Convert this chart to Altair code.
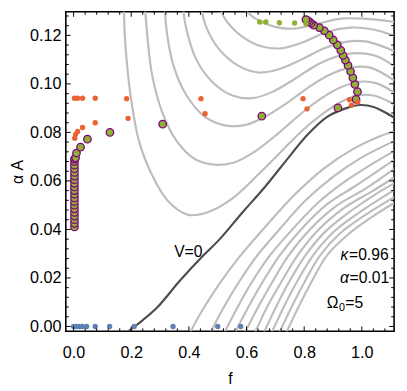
import altair as alt
import pandas as pd

# ---------------- data ----------------
# gray contour lines above V=0 (f, alpha*A)
upper_f = [
    [0.174, 0.178, 0.187, 0.201, 0.227, 0.273, 0.329, 0.398, 0.472, 0.551, 0.631, 0.711, 0.790, 0.858, 0.927, 0.983, 1.040, 1.097, 1.114],
    [0.247, 0.256, 0.273, 0.307, 0.358, 0.421, 0.489, 0.557, 0.631, 0.711, 0.790, 0.858, 0.927, 0.995, 1.052, 1.114],
    [0.316, 0.324, 0.347, 0.392, 0.455, 0.529, 0.597, 0.665, 0.745, 0.824, 0.892, 0.961, 1.029, 1.114],
    [0.378, 0.392, 0.426, 0.483, 0.551, 0.620, 0.688, 0.767, 0.847, 0.915, 0.983, 1.052, 1.114],
    [0.440, 0.460, 0.506, 0.574, 0.642, 0.711, 0.790, 0.870, 0.949, 1.018, 1.114],
    [0.500, 0.529, 0.585, 0.654, 0.722, 0.801, 0.881, 0.961, 1.040, 1.114],
    [0.585, 0.631, 0.699, 0.767, 0.847, 0.927, 1.006, 1.114],
]
upper_A = [
    [0.1329, 0.1195, 0.1060, 0.0925, 0.0764, 0.0622, 0.0515, 0.0460, 0.0474, 0.0528, 0.0615, 0.0710, 0.0804, 0.0871, 0.0925, 0.0952, 0.0952, 0.0925, 0.0912],
    [0.1329, 0.1195, 0.1033, 0.0885, 0.0764, 0.0690, 0.0667, 0.0676, 0.0723, 0.0797, 0.0878, 0.0939, 0.0986, 0.1009, 0.1002, 0.0963],
    [0.1329, 0.1208, 0.1073, 0.0952, 0.0865, 0.0828, 0.0831, 0.0865, 0.0925, 0.0993, 0.1040, 0.1067, 0.1067, 0.1013],
    [0.1329, 0.1222, 0.1100, 0.1006, 0.0952, 0.0941, 0.0966, 0.1020, 0.1080, 0.1114, 0.1127, 0.1114, 0.1071],
    [0.1329, 0.1235, 0.1141, 0.1073, 0.1047, 0.1060, 0.1100, 0.1147, 0.1174, 0.1174, 0.1134],
    [0.1329, 0.1262, 0.1195, 0.1154, 0.1147, 0.1174, 0.1215, 0.1232, 0.1224, 0.1197],
    [0.1316, 0.1269, 0.1235, 0.1228, 0.1248, 0.1269, 0.1269, 0.1255],
]
# gray contour lines below V=0
lower_f = [
    [0.405, 0.415, 0.452, 0.507, 0.578, 0.663, 0.765, 0.867, 0.969, 1.054, 1.112],
    [0.476, 0.486, 0.520, 0.571, 0.636, 0.714, 0.806, 0.901, 0.997, 1.112],
    [0.524, 0.534, 0.568, 0.616, 0.680, 0.759, 0.847, 0.942, 1.037, 1.112],
    [0.561, 0.571, 0.605, 0.653, 0.714, 0.789, 0.881, 0.976, 1.112],
    [0.595, 0.605, 0.639, 0.687, 0.745, 0.820, 0.912, 1.010, 1.112],
    [0.629, 0.639, 0.670, 0.718, 0.776, 0.847, 0.939, 1.037, 1.112],
    [0.660, 0.670, 0.701, 0.745, 0.803, 0.874, 0.963, 1.054, 1.112],
    [0.687, 0.697, 0.728, 0.772, 0.830, 0.901, 0.990, 1.112],
    [0.714, 0.724, 0.755, 0.799, 0.854, 0.925, 1.014, 1.112],
    [0.738, 0.748, 0.779, 0.823, 0.878, 0.949, 1.037, 1.112],
]
lower_A = [
    [-0.0024, 0.0, 0.0077, 0.0178, 0.0291, 0.0408, 0.0541, 0.0650, 0.0731, 0.0780, 0.0804],
    [-0.0024, 0.0, 0.0077, 0.0178, 0.0291, 0.0400, 0.0521, 0.0618, 0.0695, 0.0764],
    [-0.0024, 0.0, 0.0077, 0.0178, 0.0291, 0.0400, 0.0509, 0.0598, 0.0671, 0.0723],
    [-0.0024, 0.0, 0.0077, 0.0178, 0.0291, 0.0400, 0.0505, 0.0578, 0.0687],
    [-0.0024, 0.0, 0.0077, 0.0178, 0.0291, 0.0400, 0.0497, 0.0566, 0.0650],
    [-0.0024, 0.0, 0.0077, 0.0178, 0.0291, 0.0396, 0.0489, 0.0558, 0.0614],
    [-0.0024, 0.0, 0.0077, 0.0178, 0.0291, 0.0392, 0.0477, 0.0550, 0.0590],
    [-0.0024, 0.0, 0.0077, 0.0178, 0.0291, 0.0388, 0.0469, 0.0562],
    [-0.0024, 0.0, 0.0077, 0.0178, 0.0291, 0.0384, 0.0461, 0.0533],
    [-0.0024, 0.0, 0.0077, 0.0178, 0.0291, 0.0376, 0.0453, 0.0509],
]
# V = 0 curve
v0_f = [0.190, 0.221, 0.289, 0.367, 0.449, 0.507, 0.585, 0.663, 0.745, 0.813, 0.881, 0.949, 0.993, 1.041, 1.095, 1.112]
v0_A = [-0.0020, 0.0008, 0.0077, 0.0186, 0.0291, 0.0360, 0.0469, 0.0574, 0.0695, 0.0792, 0.0865, 0.0901, 0.0913, 0.0905, 0.0873, 0.0861]

# blue points (on A = 0)
blue_f = [0.0, 0.01, 0.02, 0.03, 0.045, 0.075, 0.125, 0.21, 0.345, 0.5, 0.58]
blue_A = [0.0] * len(blue_f)

# orange points
orange_f = [0.003, 0.014, 0.031, 0.075, 0.184, 0.189, 0.075, 0.031, 0.014, 0.007, 0.004,
            0.442, 0.456, 0.796, 0.81, 0.957, 0.964, 0.986]
orange_A = [0.0941, 0.0941, 0.0941, 0.0941, 0.0939, 0.0858, 0.084, 0.082, 0.0804, 0.0792, 0.0776,
            0.0939, 0.0877, 0.0939, 0.0897, 0.0935, 0.0912, 0.0925]

# green points with purple rim
ring_f = [0.003, 0.003, 0.003, 0.003, 0.003, 0.003, 0.003, 0.003, 0.003, 0.003,
          0.003, 0.003, 0.003, 0.003, 0.003, 0.003, 0.003, 0.003, 0.003, 0.003,
          0.007, 0.010, 0.024, 0.048, 0.126, 0.309, 0.653, 0.917, 0.980, 0.985,
          0.976, 0.969, 0.961, 0.952, 0.943, 0.935, 0.927, 0.915, 0.901, 0.887,
          0.870, 0.853, 0.833, 0.824, 0.818, 0.812, 0.806]
ring_A = [0.0410, 0.0425, 0.0440, 0.0455, 0.0470, 0.0485, 0.0500, 0.0515, 0.0530, 0.0545,
          0.0560, 0.0575, 0.0590, 0.0605, 0.0620, 0.0635, 0.0650, 0.0665, 0.0680, 0.0690,
          0.0695, 0.0715, 0.0739, 0.0772, 0.0800, 0.0834, 0.0867, 0.0901, 0.0936, 0.0968,
          0.0998, 0.1025, 0.1051, 0.1076, 0.1098, 0.1117, 0.1138, 0.1161, 0.1181, 0.1201,
          0.1219, 0.1232, 0.1242, 0.1250, 0.1256, 0.1261, 0.1265]

# small green points
green_f = [0.646, 0.667, 0.714, 0.767, 0.806]
green_A = [0.1255, 0.1255, 0.1252, 0.1251, 0.1248]

# ticks
x_major = [0.0, 0.2, 0.4, 0.6, 0.8, 1.0]
x_minor = [0.04, 0.08, 0.12, 0.16, 0.24, 0.28, 0.32, 0.36, 0.44, 0.48, 0.52, 0.56,
           0.64, 0.68, 0.72, 0.76, 0.84, 0.88, 0.92, 0.96, 1.04, 1.08]
y_major = [0.0, 0.02, 0.04, 0.06, 0.08, 0.10, 0.12]
y_minor = [0.004, 0.008, 0.012, 0.016, 0.024, 0.028, 0.032, 0.036, 0.044, 0.048, 0.052, 0.056,
           0.064, 0.068, 0.072, 0.076, 0.084, 0.088, 0.092, 0.096, 0.104, 0.108, 0.112, 0.116,
           0.124, 0.128]

# annotations: (f, A, text)
v_label = {"f": 0.398, "A": 0.0307, "t": "V=0"}
kappa_label = {"f": 1.093, "A": 0.0295, "sym": "κ", "rest": "=0.96"}
alpha_label = {"f": 1.095, "A": 0.0198, "sym": "α", "rest": "=0.01"}
omega_label = {"f": 0.878, "A": 0.0097, "sym": "Ω", "sub": "0", "rest": "=5"}

# ---------------- tables ----------------
rows = []
cid = 0
for fs, As in list(zip(upper_f, upper_A)) + list(zip(lower_f, lower_A)):
    for j, (a, b) in enumerate(zip(fs, As)):
        rows.append({"f": a, "A": b, "id": cid, "o": j})
    cid += 1
contours = pd.DataFrame(rows)
v0 = pd.DataFrame({"f": v0_f, "A": v0_A, "o": list(range(len(v0_f)))})
blue = pd.DataFrame({"f": blue_f, "A": blue_A})
orange = pd.DataFrame({"f": orange_f, "A": orange_A})
rings = pd.DataFrame({"f": ring_f, "A": ring_A})
green = pd.DataFrame({"f": green_f, "A": green_A})

W, H = 335, 326
FONT = "Liberation Sans"
FS = 16
xs = alt.Scale(domain=[-0.027, 1.112], nice=False, zero=False)
ys = alt.Scale(domain=[-0.002, 0.1297], nice=False, zero=False)
x_axis = alt.Axis(values=x_major, format=".1f", tickSize=0, domain=False, grid=False,
                  labelFontSize=16.5, labelFont=FONT, labelColor="black", labelPadding=14,
                  titleFontSize=16, titleFont=FONT, titleFontWeight="normal", titleColor="black",
                  titlePadding=10)
y_axis = alt.Axis(values=y_major, format=".2f", tickSize=0, domain=False, grid=False,
                  labelFontSize=16.5, labelFont=FONT, labelColor="black", labelPadding=5,
                  titleFontSize=16, titleFont=FONT, titleFontWeight="normal", titleColor="black",
                  titlePadding=4)


def X(fld):
    return alt.X(fld, type="quantitative", scale=xs, axis=x_axis, title="f")


def Y(fld):
    return alt.Y(fld, type="quantitative", scale=ys, axis=y_axis, title="α A")


lines = alt.Chart(contours).mark_line(clip=True, color="#bdbdbd", strokeWidth=2.2,
                                      interpolate="catmull-rom").encode(
    x=X("f"), y=Y("A"), detail="id:N", order="o:Q")
dark = alt.Chart(v0).mark_line(clip=True, color="#4d4d4d", strokeWidth=2.2,
                               interpolate="catmull-rom").encode(x=X("f"), y=Y("A"), order="o:Q")
pb = alt.Chart(blue).mark_circle(size=30, opacity=1, color="#5E81B5").encode(x=X("f"), y=Y("A"))
pr = alt.Chart(rings).mark_point(shape="circle", filled=True, size=58, opacity=1,
                                 fill="#8FB032", stroke="#800080", strokeWidth=1.3).encode(x=X("f"), y=Y("A"))
po = alt.Chart(orange).mark_circle(size=30, opacity=1, color="#EB6235").encode(x=X("f"), y=Y("A"))
pg = alt.Chart(green).mark_circle(size=30, opacity=1, color="#8FB032").encode(x=X("f"), y=Y("A"))


def xt(vals, L, top):
    d = pd.DataFrame({"t": vals})
    if top:
        return alt.Chart(d).mark_rule(color="black", strokeWidth=1).encode(
            x=X("t"), y=alt.value(0), y2=alt.value(L))
    return alt.Chart(d).mark_rule(color="black", strokeWidth=1).encode(
        x=X("t"), y=alt.value(H), y2=alt.value(H - L))


def yt(vals, L, right):
    d = pd.DataFrame({"t": vals})
    if right:
        return alt.Chart(d).mark_rule(color="black", strokeWidth=1).encode(
            y=Y("t"), x=alt.value(W), x2=alt.value(W - L))
    return alt.Chart(d).mark_rule(color="black", strokeWidth=1).encode(
        y=Y("t"), x=alt.value(0), x2=alt.value(L))


ticks = [xt(x_major, 5, False), xt(x_major, 5, True), xt(x_minor, 3, False), xt(x_minor, 3, True),
         yt(y_major, 5, False), yt(y_major, 5, True), yt(y_minor, 3, False), yt(y_minor, 3, True)]


def label(rec, field, align, dx=0, dy=0, size=FS, style="normal"):
    return alt.Chart(pd.DataFrame([rec])).mark_text(
        fontSize=size, font=FONT, color="black", baseline="middle", align=align,
        dx=dx, dy=dy, fontStyle=style).encode(x=X("f"), y=Y("A"), text=f"{field}:N")


texts = [
    label(v_label, "t", "center"),
    label(kappa_label, "rest", "right"),
    label(kappa_label, "sym", "right", dx=-41, style="italic"),
    label(alpha_label, "rest", "right"),
    label(alpha_label, "sym", "right", dx=-41, style="italic"),
    label(omega_label, "sym", "left"),
    label(omega_label, "sub", "left", dx=12.5, dy=5, size=11),
    label(omega_label, "rest", "left", dx=19),
]

chart = alt.layer(lines, dark, pb, pr, po, pg, *ticks, *texts).properties(
    width=W, height=H,
    autosize=alt.AutoSizeParams(type="none"),
    padding={"left": 59, "top": 0, "right": 5, "bottom": 57},
).configure_view(stroke="black", strokeWidth=1.6)

chart.save("out.html", embed_options={"renderer": "svg", "actions": False})
